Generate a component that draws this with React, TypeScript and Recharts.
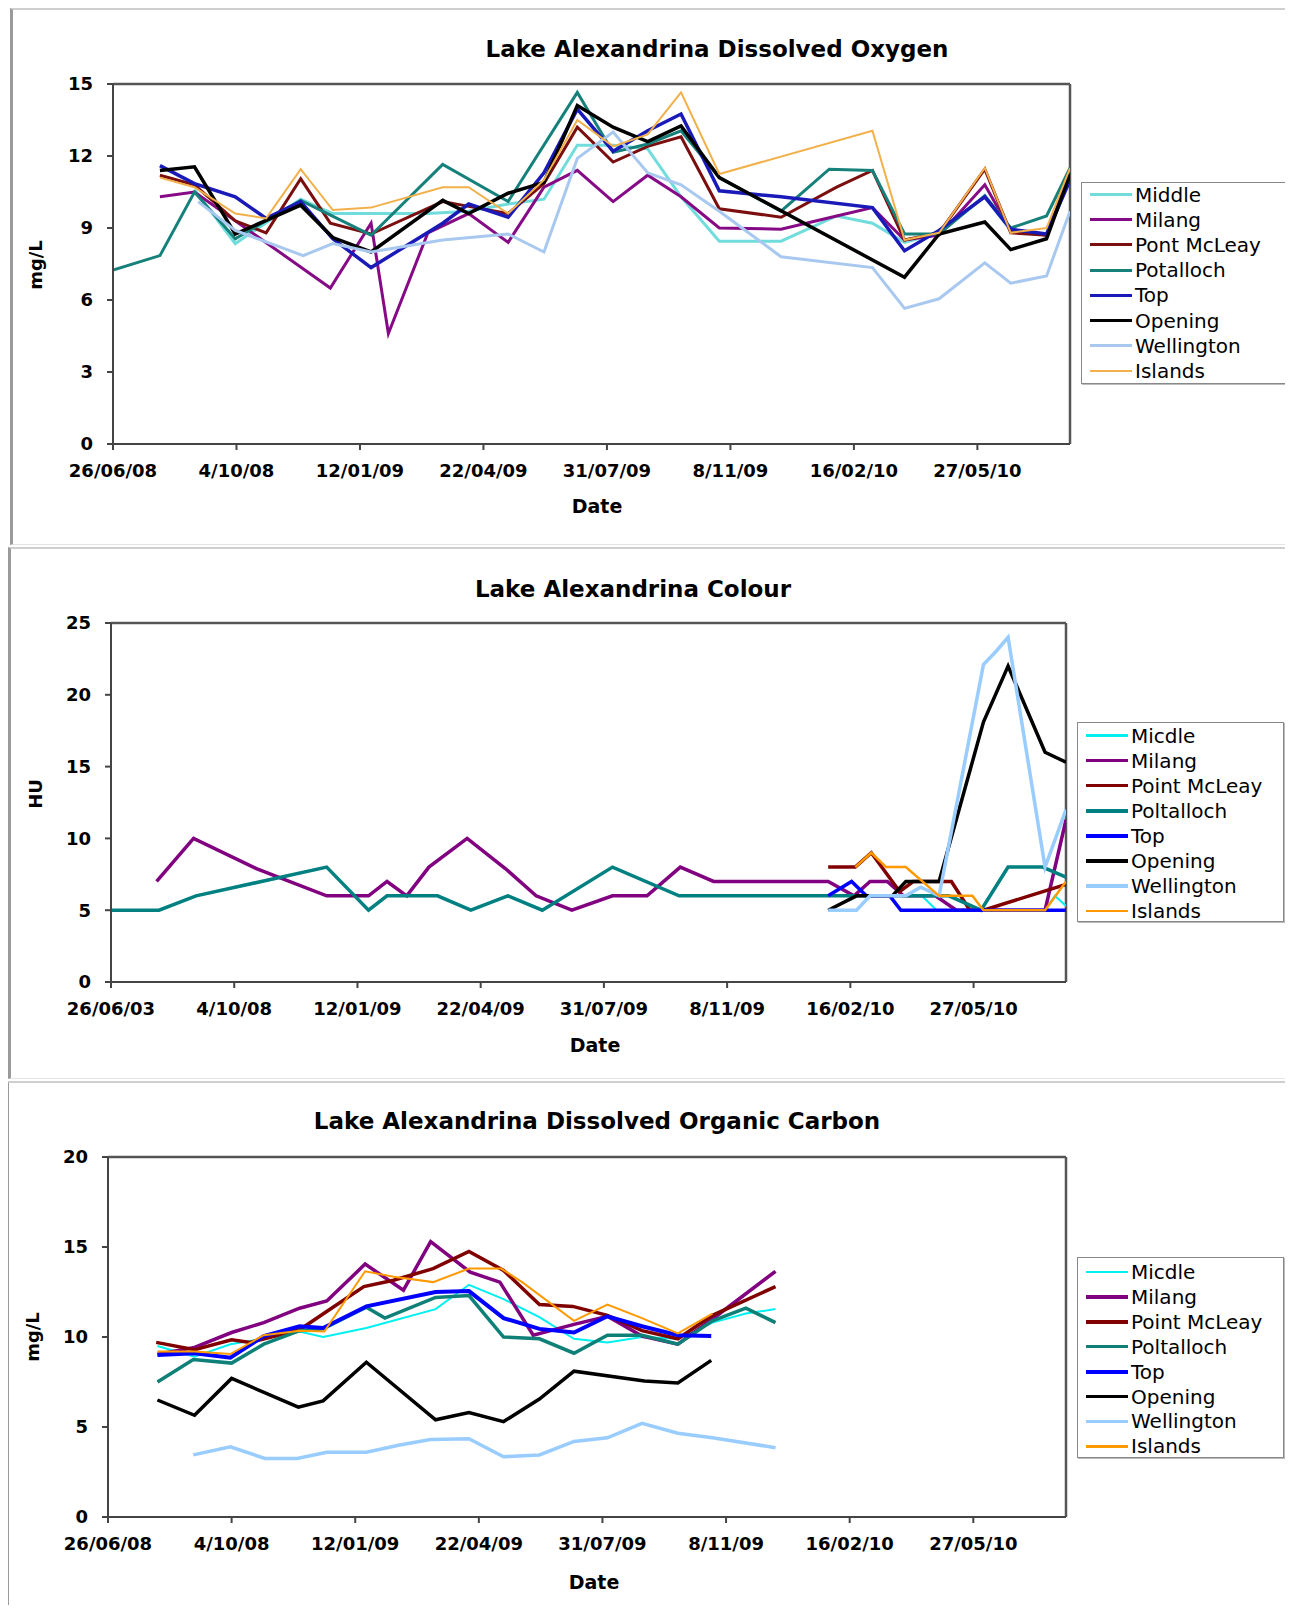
import { LineChart, Line, XAxis, YAxis, ReferenceLine } from 'recharts'

// x values are days since 26/06/08
const X_MAX = 775
const X_TICKS = [0, 100, 200, 300, 400, 500, 600, 700]
const DATE_LABELS = ['26/06/08', '4/10/08', '12/01/09', '22/04/09', '31/07/09', '8/11/09', '16/02/10', '27/05/10']
const COLOUR_DATE_LABELS = ['26/06/03', '4/10/08', '12/01/09', '22/04/09', '31/07/09', '8/11/09', '16/02/10', '27/05/10']

const DO_TICKS = [0, 3, 6, 9, 12, 15]
const HU_TICKS = [0, 5, 10, 15, 20, 25]
const DOC_TICKS = [0, 5, 10, 15, 20]

const DO_NAMES = ['Middle', 'Milang', 'Pont McLeay', 'Potalloch', 'Top', 'Opening', 'Wellington', 'Islands']
const COLOUR_NAMES = ['Micdle', 'Milang', 'Point McLeay', 'Poltalloch', 'Top', 'Opening', 'Wellington', 'Islands']
const DOC_NAMES = ['Micdle', 'Milang', 'Point McLeay', 'Poltalloch', 'Top', 'Opening', 'Wellington', 'Islands']

// Dissolved oxygen (mg/L)
const doMiddle = [[66, 10.6], [99, 8.35], [152, 10.2], [178, 9.6], [209, 9.6], [255, 9.6], [288, 9.7], [320, 10.0], [349, 10.2], [376, 12.45], [405, 12.45], [433, 12.3], [460, 10.3], [491, 8.45], [541, 8.45], [586, 9.5], [615, 9.2], [641, 8.4], [669, 8.8], [706, 10.3], [727, 8.9], [756, 8.7], [775, 11.0]]
const doMilang = [[38, 10.3], [66, 10.5], [176, 6.5], [209, 9.2], [223, 4.6], [255, 8.8], [288, 9.6], [320, 8.4], [349, 10.7], [376, 11.4], [405, 10.1], [433, 11.2], [460, 10.3], [491, 9.0], [541, 8.95], [586, 9.5], [615, 9.85], [641, 8.5], [669, 8.7], [706, 10.8], [727, 8.9], [756, 8.7], [775, 11.2]]
const doPtMcLeay = [[38, 11.2], [66, 10.8], [99, 9.3], [124, 8.8], [152, 11.05], [176, 9.2], [209, 8.75], [267, 10.1], [288, 9.9], [320, 9.6], [349, 10.85], [376, 13.2], [405, 11.75], [433, 12.4], [460, 12.8], [491, 9.8], [541, 9.45], [586, 10.7], [615, 11.4], [641, 8.5], [669, 8.8], [706, 11.45], [727, 8.8], [756, 8.7], [775, 11.3]]
const doPotalloch = [[0, 7.25], [38, 7.85], [66, 10.5], [99, 8.55], [152, 10.15], [209, 8.7], [267, 11.65], [320, 10.1], [376, 14.65], [405, 12.15], [433, 12.5], [460, 13.05], [491, 11.1], [541, 9.7], [580, 11.45], [615, 11.4], [641, 8.75], [669, 8.75], [706, 10.35], [727, 9.0], [756, 9.5], [775, 11.5]]
const doTop = [[38, 11.6], [66, 10.85], [99, 10.3], [124, 9.4], [152, 10.1], [178, 8.55], [209, 7.35], [267, 9.2], [288, 10.0], [320, 9.45], [349, 11.3], [376, 13.95], [405, 12.2], [433, 13.05], [460, 13.75], [491, 10.55], [541, 10.3], [615, 9.85], [641, 8.05], [669, 8.9], [706, 10.3], [727, 8.95], [756, 8.75], [775, 11.0]]
const doOpening = [[38, 11.4], [66, 11.55], [99, 8.75], [152, 9.95], [178, 8.6], [209, 8.0], [267, 10.15], [288, 9.6], [320, 10.45], [349, 10.9], [376, 14.1], [405, 13.2], [433, 12.6], [460, 13.25], [491, 11.1], [641, 6.95], [669, 8.75], [706, 9.25], [727, 8.1], [756, 8.55], [775, 11.25]]
const doWellington = [[69, 10.1], [99, 8.9], [154, 7.85], [178, 8.35], [209, 8.0], [267, 8.5], [320, 8.75], [349, 8.0], [376, 11.9], [405, 13.0], [433, 11.3], [460, 10.8], [491, 9.7], [541, 7.8], [615, 7.35], [641, 5.65], [669, 6.05], [706, 7.55], [727, 6.7], [756, 7.0], [775, 9.7]]
const doIslands = [[38, 11.1], [66, 10.7], [99, 9.6], [124, 9.4], [152, 11.45], [178, 9.75], [209, 9.85], [267, 10.7], [288, 10.7], [320, 9.6], [349, 11.0], [376, 13.5], [405, 12.4], [433, 12.9], [460, 14.65], [491, 11.25], [615, 13.05], [641, 8.5], [669, 8.8], [706, 11.5], [727, 8.8], [756, 9.0], [775, 11.5]]

// Colour (HU)
const huMiddle = [[582, 5], [605, 6], [658, 6], [670, 5], [758, 5], [766, 6], [775, 5.3]]
const huMilang = [[37, 7], [67, 10], [118, 7.9], [175, 6], [209, 6], [224, 7], [240, 6], [258, 8], [289, 10], [320, 7.9], [345, 6], [374, 5], [407, 6], [435, 6], [462, 8], [489, 7], [582, 7], [603, 6], [616, 7], [630, 7], [643, 6], [669, 6], [686, 5], [758, 5], [775, 11.3]]
const huPtMcLeay = [[582, 8], [604, 8], [617, 9], [640, 6.3], [651, 7], [682, 7], [697, 5], [708, 5], [775, 6.8]]
const huPotalloch = [[0, 5], [39, 5], [69, 6], [175, 8], [209, 5], [224, 6], [265, 6], [292, 5], [322, 6], [350, 5], [407, 8], [461, 6], [640, 6], [680, 6], [706, 5], [728, 8], [756, 8], [775, 7.3]]
const huTop = [[582, 6], [601, 7], [613, 6], [632, 6], [641, 5], [775, 5]]
const huOpening = [[582, 5], [605, 6], [634, 6], [645, 7], [672, 7], [708, 18.1], [728, 22], [758, 16], [775, 15.3]]
const huWellington = [[582, 5], [605, 5], [616, 6], [645, 6], [657, 6.6], [672, 6], [708, 22.1], [718, 23], [728, 24], [758, 8], [775, 12]]
const huIslands = [[604, 8], [617, 9], [629, 8], [645, 8], [672, 6], [699, 6], [708, 5], [758, 5], [775, 7]]

// Dissolved organic carbon (mg/L)
const docMiddle = [[40, 9.5], [70, 8.9], [99, 9.6], [126, 9.9], [155, 10.3], [174, 10.0], [209, 10.5], [265, 11.55], [292, 12.9], [320, 12.1], [349, 11.1], [377, 9.9], [404, 9.7], [432, 10.0], [461, 9.9], [489, 10.8], [516, 11.3], [540, 11.55]]
const docMilang = [[40, 9.05], [69, 9.4], [100, 10.25], [126, 10.8], [155, 11.6], [177, 12.0], [208, 14.05], [239, 12.6], [261, 15.3], [293, 13.6], [317, 13.05], [344, 10.1], [377, 10.7], [404, 11.15], [432, 10.05], [461, 9.6], [489, 11.0], [540, 13.65]]
const docPtMcLeay = [[39, 9.7], [70, 9.3], [100, 9.85], [115, 9.7], [155, 10.4], [182, 11.65], [207, 12.8], [231, 13.15], [263, 13.8], [292, 14.75], [320, 13.7], [349, 11.8], [376, 11.7], [404, 11.2], [432, 10.35], [461, 9.9], [489, 11.2], [540, 12.8]]
const docPotalloch = [[40, 7.5], [69, 8.75], [100, 8.55], [126, 9.6], [155, 10.35], [174, 10.45], [209, 11.65], [224, 11.05], [265, 12.2], [292, 12.3], [320, 10.0], [349, 9.9], [377, 9.1], [404, 10.1], [432, 10.1], [461, 9.6], [489, 10.9], [516, 11.6], [540, 10.8]]
const docTop = [[40, 9.0], [70, 9.1], [99, 8.85], [126, 10.05], [155, 10.6], [174, 10.5], [209, 11.7], [265, 12.5], [292, 12.55], [320, 11.05], [349, 10.45], [377, 10.25], [404, 11.15], [432, 10.6], [461, 10.1], [488, 10.05]]
const docOpening = [[40, 6.5], [70, 5.65], [100, 7.7], [154, 6.1], [174, 6.45], [209, 8.6], [265, 5.4], [292, 5.8], [320, 5.3], [349, 6.55], [377, 8.1], [434, 7.55], [461, 7.45], [488, 8.7]]
const docWellington = [[69, 3.45], [99, 3.9], [127, 3.25], [153, 3.25], [177, 3.6], [209, 3.6], [236, 4.0], [261, 4.3], [292, 4.35], [320, 3.35], [349, 3.45], [377, 4.2], [404, 4.4], [432, 5.2], [461, 4.65], [489, 4.4], [540, 3.85]]
const docIslands = [[40, 9.2], [70, 9.2], [99, 9.05], [126, 10.1], [155, 10.35], [175, 10.3], [208, 13.65], [231, 13.35], [263, 13.05], [292, 13.8], [318, 13.8], [335, 13.05], [377, 10.9], [404, 11.8], [432, 11.05], [461, 10.2], [489, 11.3]]

const DO_STYLE = [
  { color: '#70DCDC', width: 3 },
  { color: '#860A86', width: 3 },
  { color: '#7B0F0F', width: 3 },
  { color: '#16807A', width: 3 },
  { color: '#1A1AB8', width: 3.5 },
  { color: '#000000', width: 3.5 },
  { color: '#A8C8F0', width: 3 },
  { color: '#F2B04A', width: 2 },
]
const COLOUR_STYLE = [
  { color: '#00F0F0', width: 2 },
  { color: '#800080', width: 3.5 },
  { color: '#800000', width: 3.5 },
  { color: '#008080', width: 3.5 },
  { color: '#0000FF', width: 3.5 },
  { color: '#000000', width: 3.5 },
  { color: '#99CCFF', width: 3.5 },
  { color: '#FF9900', width: 2.5 },
]
const DOC_STYLE = [
  { color: '#00F0F0', width: 2 },
  { color: '#800080', width: 3.5 },
  { color: '#800000', width: 3.5 },
  { color: '#0F8078', width: 3.5 },
  { color: '#0000FF', width: 4 },
  { color: '#000000', width: 3.5 },
  { color: '#99CCFF', width: 3.5 },
  { color: '#FF9900', width: 2 },
]

type Style = { color: string; width: number }
type Series = Style & { name: string; data: { d: number; v: number }[] }

function buildSeries(names: string[], styles: Style[], values: number[][][]): Series[] {
  return values.map((pts, i) => ({
    name: names[i],
    ...styles[i],
    data: pts.map(([d, v]) => ({ d, v })),
  }))
}

const doSeries = buildSeries(DO_NAMES, DO_STYLE, [doMiddle, doMilang, doPtMcLeay, doPotalloch, doTop, doOpening, doWellington, doIslands])
const huSeries = buildSeries(COLOUR_NAMES, COLOUR_STYLE, [huMiddle, huMilang, huPtMcLeay, huPotalloch, huTop, huOpening, huWellington, huIslands])
const docSeries = buildSeries(DOC_NAMES, DOC_STYLE, [docMiddle, docMilang, docPtMcLeay, docPotalloch, docTop, docOpening, docWellington, docIslands])

const W = 1293
const AXIS_FONT = { fontFamily: 'DejaVu Sans', fontWeight: 'bold', fontSize: 18, fill: '#000' }

interface PanelProps {
  boxTop: number
  boxLeft: number
  boxHeight: number
  plot: { left: number; right: number; top: number; bottom: number }
  yMax: number
  yTicks: number[]
  xLabels: string[]
  series: Series[]
  title: string
  titleAt: [number, number]
  dateAt: [number, number]
  yLabel: string
  yLabelAt: [number, number]
  legend: { left: number; top: number; width: number; height: number; firstRow: number; step: number; lineX: number; textX: number }
}

function Legend({ series, legend }: { series: Series[]; legend: PanelProps['legend'] }) {
  return (
    <div
      style={{
        position: 'absolute',
        left: legend.left,
        top: legend.top,
        width: legend.width,
        height: legend.height,
        border: '1px solid #888',
        boxShadow: '1px 1px 0 #bbb',
        background: '#fff',
        boxSizing: 'border-box',
      }}
    >
      {series.map((s, i) => {
        const cy = legend.firstRow - legend.top + i * legend.step
        const h = Math.max(s.width, 2.5)
        return (
          <div key={s.name}>
            <div
              style={{
                position: 'absolute',
                left: legend.lineX - legend.left,
                top: cy - h / 2,
                width: 42,
                height: h,
                background: s.color,
              }}
            />
            <div
              style={{
                position: 'absolute',
                left: legend.textX - legend.left,
                top: cy,
                transform: 'translateY(-50%)',
                fontFamily: 'DejaVu Sans',
                fontSize: 20,
                lineHeight: 1,
                whiteSpace: 'nowrap',
                color: '#000',
              }}
            >
              {s.name}
            </div>
          </div>
        )
      })}
    </div>
  )
}

function Panel(p: PanelProps) {
  const chartHeight = p.boxHeight
  const margin = {
    top: p.plot.top - p.boxTop,
    bottom: p.boxTop + chartHeight - p.plot.bottom - 60,
    left: p.plot.left - 60,
    right: W - p.plot.right,
  }
  const label = (text: string, at: [number, number], extra: object) => (
    <div
      style={{
        position: 'absolute',
        left: at[0],
        top: at[1],
        whiteSpace: 'nowrap',
        fontFamily: 'DejaVu Sans',
        fontWeight: 'bold',
        color: '#000',
        lineHeight: 1,
        ...extra,
      }}
    >
      {text}
    </div>
  )
  return (
    <>
      <div
        style={{
          position: 'absolute',
          left: p.boxLeft,
          top: p.boxTop,
          width: W - p.boxLeft,
          height: p.boxHeight,
          borderTop: '2px solid #cfcfcf',
          borderLeft: '3px solid #9a9a9a',
          borderBottom: '1px solid #e4e4e4',
          boxSizing: 'border-box',
        }}
      />
      <div style={{ position: 'absolute', left: 0, top: p.boxTop }}>
        <LineChart width={W} height={chartHeight} margin={margin}>
          <XAxis
            type="number"
            dataKey="d"
            domain={[0, X_MAX]}
            allowDataOverflow
            ticks={X_TICKS}
            tickFormatter={(d: number) => p.xLabels[X_TICKS.indexOf(d)] ?? ''}
            height={60}
            tick={AXIS_FONT}
            tickSize={6}
            tickMargin={14}
            interval={0}
            stroke="#444"
            strokeWidth={2}
          />
          <YAxis
            type="number"
            domain={[0, p.yMax]}
            allowDataOverflow
            ticks={p.yTicks}
            width={60}
            tick={AXIS_FONT}
            tickSize={6}
            tickMargin={14}
            interval={0}
            stroke="#444"
            strokeWidth={2}
          />
          <ReferenceLine y={p.yMax} stroke="#555" strokeWidth={2.5} />
          <ReferenceLine x={X_MAX} stroke="#555" strokeWidth={2.5} />
          {p.series.map((s) => (
            <Line
              key={s.name}
              data={s.data}
              dataKey="v"
              name={s.name}
              type="linear"
              stroke={s.color}
              strokeWidth={s.width}
              strokeLinejoin="miter"
              dot={false}
              activeDot={false}
              isAnimationActive={false}
            />
          ))}
        </LineChart>
      </div>
      {label(p.title, p.titleAt, { fontSize: 23, transform: 'translate(-50%, -50%)' })}
      {label('Date', p.dateAt, { fontSize: 19, transform: 'translate(-50%, -50%)' })}
      {label(p.yLabel, p.yLabelAt, { fontSize: 18, transform: 'translate(-50%, -50%) rotate(-90deg)' })}
      <Legend series={p.series} legend={p.legend} />
    </>
  )
}

export default function App() {
  return (
    <div style={{ position: 'relative', width: W, height: 1613, margin: -8, background: '#fff', overflow: 'hidden' }}>
      <Panel
        boxTop={8}
        boxLeft={10}
        boxHeight={537}
        plot={{ left: 113, right: 1070, top: 84, bottom: 444 }}
        yMax={15}
        yTicks={DO_TICKS}
        xLabels={DATE_LABELS}
        series={doSeries}
        title="Lake Alexandrina Dissolved Oxygen"
        titleAt={[717, 49]}
        dateAt={[597, 506]}
        yLabel="mg/L"
        yLabelAt={[36, 265]}
        legend={{ left: 1081, top: 182, width: 206, height: 202, firstRow: 193.5, step: 25.2, lineX: 1089, textX: 1134 }}
      />
      <Panel
        boxTop={547}
        boxLeft={8}
        boxHeight={532}
        plot={{ left: 111, right: 1066, top: 623, bottom: 982 }}
        yMax={25}
        yTicks={HU_TICKS}
        xLabels={COLOUR_DATE_LABELS}
        series={huSeries}
        title="Lake Alexandrina Colour"
        titleAt={[633, 589]}
        dateAt={[595, 1045]}
        yLabel="HU"
        yLabelAt={[36, 794]}
        legend={{ left: 1077, top: 722, width: 207, height: 200, firstRow: 734.5, step: 25.1, lineX: 1085, textX: 1130 }}
      />
      <Panel
        boxTop={1081}
        boxLeft={6}
        boxHeight={532}
        plot={{ left: 108, right: 1066, top: 1157, bottom: 1517 }}
        yMax={20}
        yTicks={DOC_TICKS}
        xLabels={DATE_LABELS}
        series={docSeries}
        title="Lake Alexandrina Dissolved Organic Carbon"
        titleAt={[597, 1121]}
        dateAt={[594, 1582]}
        yLabel="mg/L"
        yLabelAt={[33, 1337]}
        legend={{ left: 1077, top: 1257, width: 207, height: 201, firstRow: 1271, step: 24.9, lineX: 1085, textX: 1130 }}
      />
    </div>
  )
}
